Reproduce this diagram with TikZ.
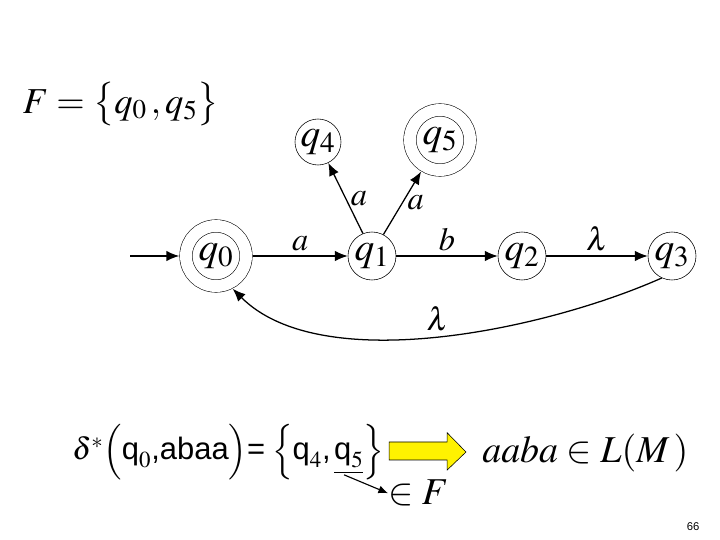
\documentclass[tikz,border=0pt]{standalone}
\usepackage{amsmath}
\usepackage{mathptmx}
\usepackage[no-math]{fontspec}
\setmainfont{Liberation Serif}
\setsansfont{Liberation Sans}
\usepackage{tikz}
\usetikzlibrary{arrows.meta}

\tikzset{
  state/.style={draw, circle, minimum size=1.2cm, inner sep=0pt, font=\fontsize{28}{28}\selectfont},
  accept/.style={state, minimum size=1.5cm, double, double distance=0.3cm, outer sep=0.17cm},
  trans/.style={-{Latex[length=3.2mm, width=2.6mm]}, line width=0.9pt},
  lbl/.style={font=\fontsize{23}{23}\selectfont},
}

\begin{document}
\begin{tikzpicture}
            \useasboundingbox (0, 0) rectangle (18, 13.5);

            \node[anchor=west, font=\fontsize{26}{26}\selectfont] (fset) at (0.45, 10.9) {$F=\bigl\{q_0\,,q_5\bigr\}$};

            \node[accept] (q0) at (5.4, 7.1) {$q_0$};
            \node[state] (q1) at (9.3, 7.1) {$q_1$};
            \node[state] (q2) at (13.05, 7.1) {$q_2$};
            \node[state] (q3) at (16.8, 7.1) {$q_3$};
            \node[state, minimum size=1.15cm] (q4) at (7.95, 9.95) {$q_4$};
            \node[accept] (q5) at (11.0, 10.0) {$q_5$};
            \coordinate (init) at (3.25, 7.1);

            \draw [trans] (init) -- (q0);
            \draw [trans] (q0) -- node[above, lbl] {$a$} (q1);
            \draw [trans] (q1) -- node[above, lbl] {$b$} (q2);
            \draw [trans] (q2) -- node[above, lbl] {$\lambda$} (q3);
            \draw [trans] (q1.112) -- node[right, lbl] {$a$} (q4);
            \draw [trans] (q1.62) -- node[right, lbl] {$a$} (q5);
            \draw [trans] (q3.245) to[out=204, in=-45, looseness=0.75] node[above, lbl] {$\lambda$} (q0.-63);

            % bottom line
            \node[anchor=base west, inner sep=0pt, font=\fontsize{22}{22}\selectfont] (delta) at (1.8, 2.0)
              {$\delta^{*}\Bigl(\textsf{q}_0\textsf{,abaa}\Bigr)\textsf{=}\;\Bigl\{\textsf{q}_4\textsf{,}\,\underline{\textsf{q}_5}\Bigr\}$};
            \draw [fill=yellow, line width=0.4pt] (9.73, 2.0) -- (9.73, 2.45) -- (11.18, 2.45) -- (11.18, 2.68)
              -- (11.65, 2.2) -- (11.18, 1.75) -- (11.18, 2.0) -- cycle;
            \node[anchor=base west, inner sep=0pt, font=\fontsize{27}{27}\selectfont] (word) at (12.05, 1.93) {$aaba\in L(M\,)$};
            \node[anchor=base west, inner sep=0pt, font=\fontsize{27}{27}\selectfont] (inF) at (9.7, 0.88) {$\in F$};
            \coordinate (under) at (8.6, 1.63);
            \draw [-{Latex[length=2.4mm, width=2mm]}, line width=0.8pt] (under) -- (inF.west);

            \node[font=\sffamily\fontsize{8}{8}\selectfont] (page) at (17.33, 0.33) {66};
        \end{tikzpicture}
\end{document}
